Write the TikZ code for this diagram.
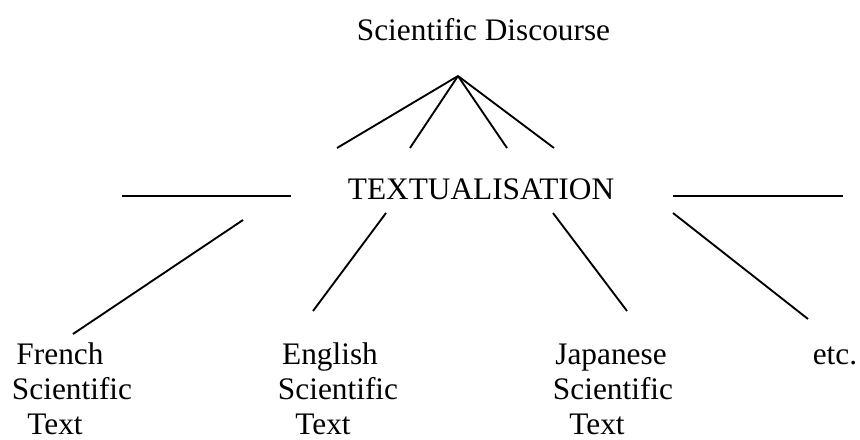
\documentclass[tikz,border=0pt]{standalone}
\usepackage{fontspec}
\setmainfont{Liberation Serif}
\begin{document}
\begin{tikzpicture}[x=0.75pt,y=-0.75pt,
  txt/.style={anchor=base,inner sep=0pt,text depth=0pt,font=\fontsize{23.5pt}{28pt}\selectfont},
  ln/.style={line width=1.4pt,line cap=butt}]
\useasboundingbox (0,0) rectangle (860,439);
% texts
\node[txt] (sd) at (483.5,40) {Scientific Discourse};
\node[txt] (tx) at (481,199) {TEXTUALISATION};
\node[txt] (fr1) at (60,364) {French};
\node[txt] (fr2) at (72,399) {Scientific};
\node[txt] (fr3) at (55,434) {Text};
\node[txt] (en1) at (330,364) {English};
\node[txt] (en2) at (338,399) {Scientific};
\node[txt] (en3) at (323,434) {Text};
\node[txt] (ja1) at (611,364) {Japanese};
\node[txt] (ja2) at (613,399) {Scientific};
\node[txt] (ja3) at (597,434) {Text};
\node[txt] (etc) at (835,364) {etc.};
% coordinates
\coordinate (apex) at (458,76);
\coordinate (f1) at (337,148);
\coordinate (f2) at (410,148);
\coordinate (f3) at (507,148);
\coordinate (f4) at (554,148);
\coordinate (hl1) at (122,196);
\coordinate (hl2) at (291,196);
\coordinate (hr1) at (673,196);
\coordinate (hr2) at (843,196);
\coordinate (d1a) at (243,220);
\coordinate (d1b) at (73,334);
\coordinate (d2a) at (386,213);
\coordinate (d2b) at (313,311);
\coordinate (d3a) at (553,213);
\coordinate (d3b) at (627,311);
\coordinate (d4a) at (673,213);
\coordinate (d4b) at (808,319);
% lines
\draw[ln] (apex) -- (f1);
\draw[ln] (apex) -- (f2);
\draw[ln] (apex) -- (f3);
\draw[ln] (apex) -- (f4);
\draw[ln] (hl1) -- (hl2);
\draw[ln] (hr1) -- (hr2);
\draw[ln] (d1a) -- (d1b);
\draw[ln] (d2a) -- (d2b);
\draw[ln] (d3a) -- (d3b);
\draw[ln] (d4a) -- (d4b);
\end{tikzpicture}
\end{document}
